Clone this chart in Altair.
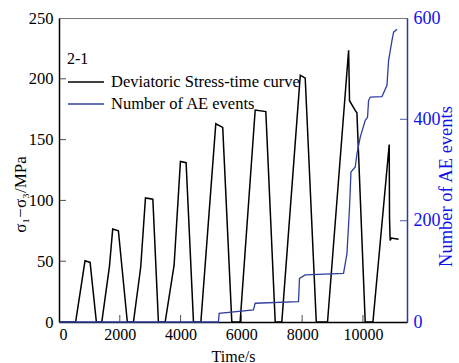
import altair as alt
import pandas as pd

# Deviatoric stress vs time
stress_t = [0, 547, 856, 1023, 1230, 1408, 1661, 1767, 1954, 2248, 2450, 2688, 2845, 3088, 3271,
            3493, 3787, 3995, 4182, 4425, 4668, 5159, 5387, 5686, 5959, 6455, 6805, 7114, 7331,
            7939, 8101, 8465, 8835, 9529, 9559, 9746, 9802, 10075, 10329, 10865, 10875, 10896,
            10936, 11174]
stress_v = [0, 0, 50.3, 49, 0, 0, 46, 76.5, 75, 0, 0, 45, 102, 101, 0,
            0, 46.7, 132, 131, 0, 0, 163, 160, 0, 0, 174.3, 173, 0, 0,
            203, 200.6, 0, 0, 223.5, 182, 174, 172, 0, 0, 146, 85, 67,
            69, 68]

# Number of AE events vs time
ae_t = [0, 5246, 5269, 6398, 6454, 7880, 7913, 8101, 9362, 9474, 9560, 9606, 9747, 9803,
        9912, 10076, 10152, 10185, 10241, 10627, 10791, 10844, 10956, 11009, 11121]
ae_v = [0, 0, 17, 24, 37, 40, 86, 93, 96, 135, 227, 296, 306, 332,
        365, 398, 404, 437, 444, 445, 467, 516, 556, 572, 578]

x_ticks = [2000, 4000, 6000, 8000, 10000]
left_ticks = [50, 100, 150, 200]
right_ticks = [200, 400]

series_names = ["Deviatoric Stress-time curve", "Number of AE events"]

FONT = "Times New Roman, Liberation Serif, serif"
W, H = 348, 304
BLUE_LINE = "#2f3f9f"
BLUE_TEXT = "#1010ee"

stress_df = pd.DataFrame({"t": stress_t, "v": stress_v, "series": series_names[0]})
ae_df = pd.DataFrame({"t": ae_t, "v": ae_v, "series": series_names[1]})

x_scale = alt.Scale(domain=[0, 11450], nice=False, zero=False)
yl_scale = alt.Scale(domain=[0, 250], nice=False)
yr_scale = alt.Scale(domain=[0, 600], nice=False)

color = alt.Color(
    "series:N",
    scale=alt.Scale(domain=series_names, range=["black", BLUE_LINE]),
    legend=alt.Legend(
        title="2-1", orient="none", legendX=8, legendY=33,
        titleFont=FONT, titleFontSize=16, titleFontWeight="normal", titleColor="black",
        titlePadding=4,
        labelFont=FONT, labelFontSize=16.5, labelColor="black", labelOffset=6, labelLimit=400,
        symbolType="stroke", symbolSize=1296, symbolStrokeWidth=1.5,
        clipHeight=22, rowPadding=0,
    ),
)

x_enc = alt.X(
    "t:Q", scale=x_scale,
    axis=alt.Axis(values=[0] + x_ticks, format="d", title="Time/s", ticks=False, tickSize=0,
                  grid=False,
                  labelFont=FONT, labelFontSize=16, labelColor="black", labelPadding=4,
                  titleFont=FONT, titleFontSize=16, titleFontWeight="normal", titleColor="black",
                  titleBaseline="middle", titleY=34,
                  domainColor="black", domainWidth=1.5),
)

stress_line = alt.Chart(stress_df).mark_line(strokeWidth=1.5).encode(
    x=x_enc,
    y=alt.Y("v:Q", scale=yl_scale,
            axis=alt.Axis(values=[0, 50, 100, 150, 200, 250], format="d", title="σ₁−σ₃/MPa",
                          orient="left", ticks=False, tickSize=0, grid=False,
                          labelFont=FONT, labelFontSize=16.5, labelColor="black", labelPadding=6,
                          titleFont=FONT, titleFontSize=17, titleFontWeight="normal",
                          titleColor="black", titleAngle=270, titleBaseline="middle",
                          titleAlign="center", titleX=-39, titleY=176,
                          domainColor="black", domainWidth=1.5)),
    color=color,
)

xt_df = pd.DataFrame({"t": x_ticks})
x_tick_marks = alt.Chart(xt_df).mark_tick(color="black", thickness=1, size=7).encode(
    x=alt.X("t:Q", scale=x_scale), y=alt.value(H - 3.5)
)
lt_df = pd.DataFrame({"v": left_ticks})
l_tick_marks = alt.Chart(lt_df).mark_tick(color="black", thickness=1, size=7).encode(
    y=alt.Y("v:Q", scale=yl_scale), x=alt.value(3.5)
)

left = alt.layer(stress_line, x_tick_marks, l_tick_marks)

ae_line = alt.Chart(ae_df).mark_line(strokeWidth=1.3).encode(
    x=alt.X("t:Q", scale=x_scale),
    y=alt.Y("v:Q", scale=yr_scale,
            axis=alt.Axis(values=[0, 200, 400, 600], format="d", title="Number of AE events",
                          orient="right", ticks=False, tickSize=0, grid=False,
                          labelFont=FONT, labelFontSize=18, labelColor=BLUE_TEXT, labelPadding=6,
                          titleFont=FONT, titleFontSize=18.5, titleFontWeight="normal",
                          titleColor=BLUE_TEXT, titleAngle=270, titleBaseline="middle",
                          titleAlign="center", titleX=38, titleY=168,
                          domainColor="#2c3a96", domainWidth=1.5)),
    color=color,
)
rt_df = pd.DataFrame({"v": right_ticks})
r_tick_marks = alt.Chart(rt_df).mark_tick(color="#2c3a96", thickness=1.2, size=7).encode(
    y=alt.Y("v:Q", scale=yr_scale), x=alt.value(W - 3.5)
)
right = alt.layer(ae_line, r_tick_marks)

chart = alt.layer(left, right).resolve_scale(y="independent").properties(
    width=W, height=H,
    autosize=alt.AutoSizeParams(type="none"),
    padding={"left": 59, "top": 18, "right": 52, "bottom": 41},
).configure(background="white", font=FONT).configure_view(stroke="#777777", strokeWidth=1)

chart.save("out.html", embed_options={"renderer": "svg", "actions": False})
